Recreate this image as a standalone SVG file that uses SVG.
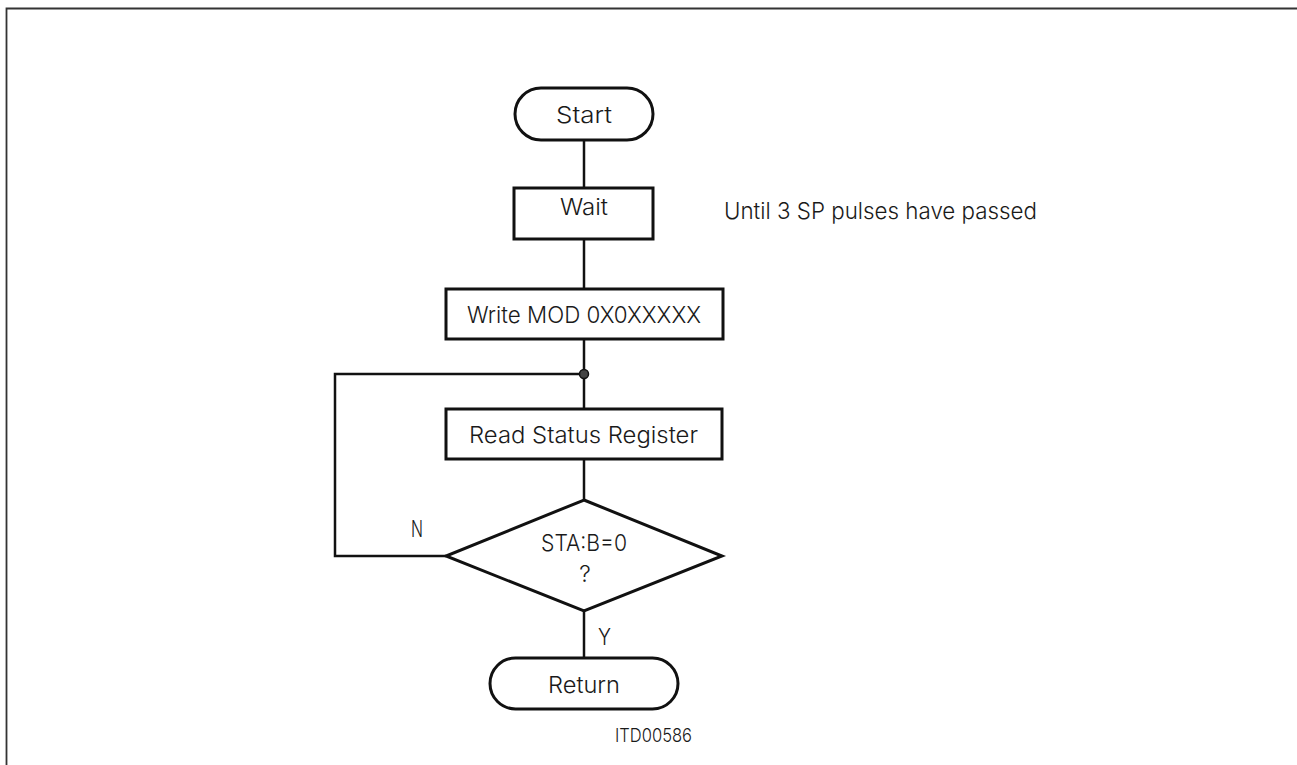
<svg xmlns="http://www.w3.org/2000/svg" width="1297" height="765" viewBox="0 0 1297 765">
<style>
.shape{fill:#fff;stroke:#111;stroke-width:3}
.line{fill:none;stroke:#111;stroke-width:2.5}
.t{font-family:Inter,"Liberation Sans",sans-serif;font-weight:300;font-size:23px;fill:#1a1a1a}
.s{font-family:Inter,"Liberation Sans",sans-serif;font-weight:300;font-size:19px;fill:#1a1a1a}
</style>
<rect width="1297" height="765" fill="#fff"/>
<path d="M6.5,765 V8.5 H1297" fill="none" stroke="#333" stroke-width="1.8"/>
<g id="connectors">
<line class="line" x1="584" y1="140" x2="584" y2="188"/>
<line class="line" x1="584" y1="239" x2="584" y2="289"/>
<line class="line" x1="584" y1="339" x2="584" y2="409"/>
<line class="line" x1="584" y1="459" x2="584" y2="500"/>
<line class="line" x1="584" y1="611" x2="584" y2="658"/>
<polyline class="line" points="446,556 335,556 335,374 584,374"/>
<circle cx="584" cy="374" r="4.5" fill="#444" stroke="#111" stroke-width="1.5"/>
<text class="t" x="411" y="537" textLength="12" lengthAdjust="spacingAndGlyphs">N</text>
<text class="t" x="598" y="645" textLength="13" lengthAdjust="spacingAndGlyphs">Y</text>
</g>
<g id="start">
<rect class="shape" x="515" y="88" width="138" height="52" rx="26"/>
<text class="t" x="556" y="123" textLength="56" lengthAdjust="spacingAndGlyphs">Start</text>
</g>
<g id="wait">
<rect class="shape" x="514" y="188" width="139" height="51"/>
<text class="t" x="560" y="215" textLength="48" lengthAdjust="spacingAndGlyphs">Wait</text>
</g>
<g id="note">
<text class="t" x="724" y="219" textLength="313" lengthAdjust="spacingAndGlyphs">Until 3 SP pulses have passed</text>
</g>
<g id="write">
<rect class="shape" x="446" y="289" width="277" height="50"/>
<text class="t" x="467" y="323" textLength="234" lengthAdjust="spacingAndGlyphs">Write MOD 0X0XXXXX</text>
</g>
<g id="read">
<rect class="shape" x="446" y="409" width="276" height="50"/>
<text class="t" x="469" y="443" textLength="229" lengthAdjust="spacingAndGlyphs">Read Status Register</text>
</g>
<g id="decision">
<polygon class="shape" points="584,500 722,556 584,611 446,556"/>
<text class="t" x="541" y="551" textLength="86" lengthAdjust="spacingAndGlyphs">STA:B=0</text>
<text class="t" x="585" y="582" text-anchor="middle">?</text>
</g>
<g id="return">
<rect class="shape" x="490" y="658" width="188" height="51" rx="25.5"/>
<text class="t" x="548" y="693" textLength="72" lengthAdjust="spacingAndGlyphs">Return</text>
</g>
<g id="label">
<text class="s" x="615" y="742" textLength="77" lengthAdjust="spacingAndGlyphs">ITD00586</text>
</g>
</svg>
